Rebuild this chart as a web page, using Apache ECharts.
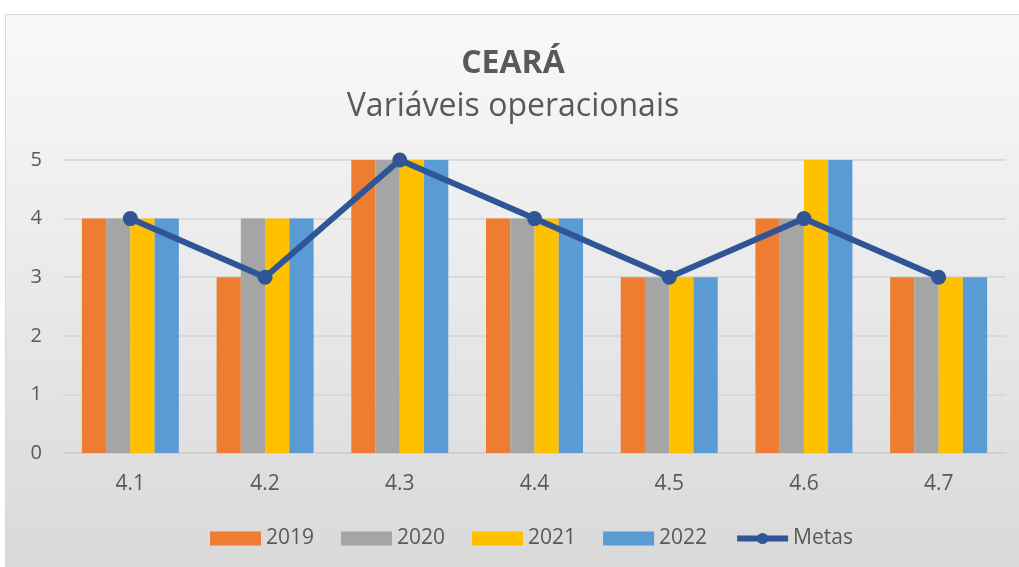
<!DOCTYPE html>
<html>
<head>
<meta charset="utf-8">
<script src="https://cdn.jsdelivr.net/npm/echarts@6/dist/echarts.min.js"></script>
<style>
    html, body { margin: 0; padding: 0; background: #ffffff; }
    #frame {
        position: absolute; left: 5px; top: 14px;
        width: 1014px; height: 553px;
        border-top: 1px solid #d9d9d9; border-left: 1px solid #d9d9d9;
    }
    #chart { width: 1014px; height: 553px; }
</style>
</head>
<body>
<div id="frame"><div id="chart"></div></div>
<script>
// categorias e valores
let categorias = ['4.1', '4.2', '4.3', '4.4', '4.5', '4.6', '4.7'];
let anos = ['2019', '2020', '2021', '2022'];
let valores2019 = [4, 3, 5, 4, 3, 4, 3];
let valores2020 = [4, 4, 5, 4, 3, 4, 3];
let valores2021 = [4, 4, 5, 4, 3, 5, 3];
let valores2022 = [4, 4, 5, 4, 3, 5, 3];
let metas = [4, 3, 5, 4, 3, 4, 3];
let coresAnos = ['#ed7d31', '#a5a5a5', '#ffc000', '#5b9bd5'];

let fonte = '"Open Sans", "Noto Sans", sans-serif';
let textoCor = '#595959';
let corMetas = '#2f5597';

let chart = echarts.init(document.getElementById('chart'));

let seriesBarras = [valores2019, valores2020, valores2021, valores2022].map(function (dados, i) {
    return {
        name: anos[i],
        type: 'bar',
        barGap: '0%',
        barCategoryGap: '28%',
        itemStyle: { color: coresAnos[i] },
        data: dados
    };
});

let option = {
    backgroundColor: {
        type: 'linear', x: 0, y: 0, x2: 0, y2: 1,
        colorStops: [
            { offset: 0, color: '#f9f9f9' },
            { offset: 1, color: '#d9d9d9' }
        ]
    },
    title: {
        text: 'CEARÁ',
        subtext: 'Variáveis operacionais',
        left: 'center',
        top: 28,
        itemGap: 11,
        textStyle: { fontFamily: fonte, fontSize: 32, fontWeight: 'bold', color: textoCor },
        subtextStyle: { fontFamily: fonte, fontSize: 32, color: textoCor }
    },
    legend: {
        bottom: 14,
        left: 199,
        itemWidth: 51,
        itemHeight: 14,
        itemGap: 27,
        textStyle: { fontFamily: fonte, fontSize: 21, color: textoCor },
        data: [
            { name: '2019', icon: 'rect' },
            { name: '2020', icon: 'rect' },
            { name: '2021', icon: 'rect' },
            { name: '2022', icon: 'rect' },
            { name: 'Metas', lineStyle: { width: 6 } }
        ]
    },
    grid: {
        left: 57,
        right: 14,
        top: 145,
        bottom: 115
    },
    xAxis: {
        type: 'category',
        data: categorias,
        axisTick: { show: false },
        axisLine: { lineStyle: { color: '#d0d0d0', width: 1.5 } },
        axisLabel: { fontFamily: fonte, fontSize: 21, color: textoCor, margin: 21 }
    },
    yAxis: {
        type: 'value',
        min: 0,
        max: 5,
        interval: 1,
        axisLine: { show: false },
        axisTick: { show: false },
        axisLabel: { fontFamily: fonte, fontSize: 20, color: textoCor, margin: 21 },
        splitLine: { lineStyle: { color: '#d4d4d4', width: 1.5 } }
    },
    series: seriesBarras.concat([
        {
            name: 'Metas',
            type: 'line',
            data: metas,
            symbol: 'circle',
            symbolSize: 15,
            lineStyle: { color: corMetas, width: 6 },
            itemStyle: { color: corMetas },
            z: 5
        }
    ])
};

chart.setOption(option);
</script>
</body>
</html>
